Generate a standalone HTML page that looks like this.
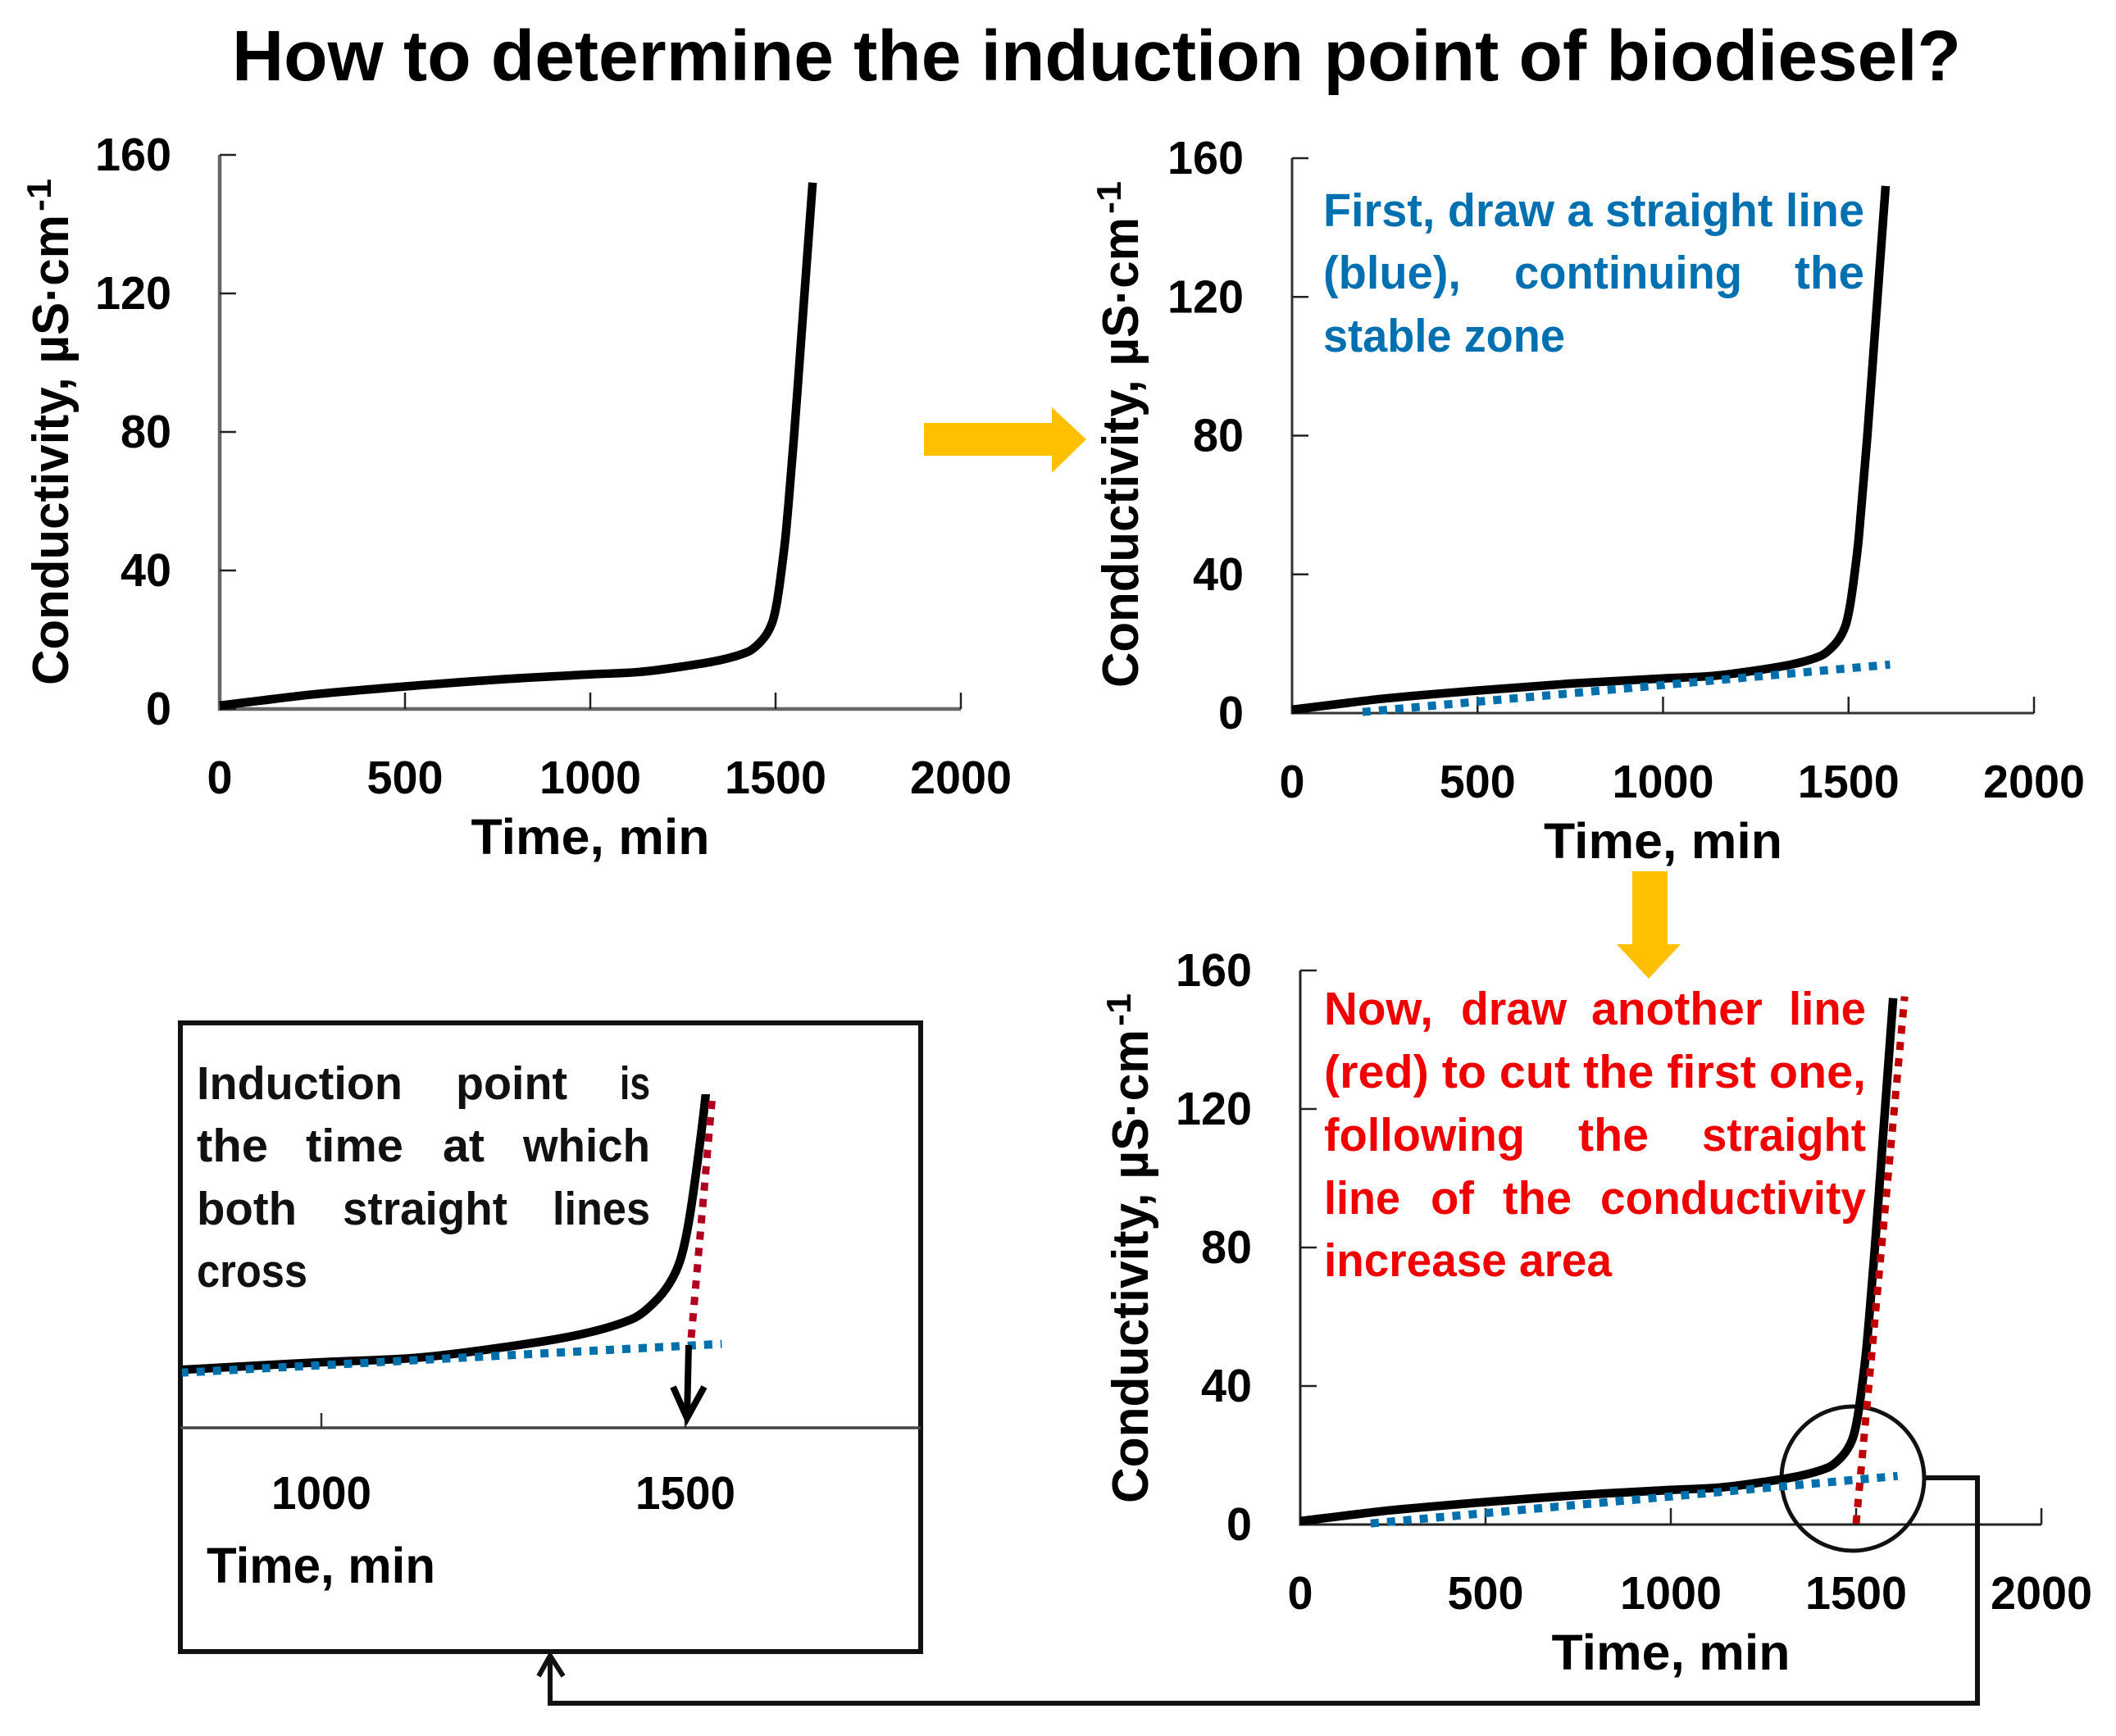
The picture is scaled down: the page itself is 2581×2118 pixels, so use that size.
<!DOCTYPE html>
<html lang="en">
<head>
<meta charset="utf-8">
<title>How to determine the induction point of biodiesel?</title>
<style>
html,body{margin:0;padding:0;background:#fff;}
svg{display:block;}
text{font-family:"Liberation Sans",sans-serif;font-weight:700;}
</style>
</head>
<body>
<svg id="figure" xmlns="http://www.w3.org/2000/svg" width="2581" height="2118" viewBox="0 0 2581 2118">
  <rect width="2581" height="2118" fill="#fff"/>
  <text x="283" y="98" font-size="87" fill="#000" textLength="2109" lengthAdjust="spacingAndGlyphs">How to determine the induction point of biodiesel?</text>

  <polygon points="1127,516 1283,516 1283,497 1325,536 1283,577 1283,556 1127,556" fill="#ffc000"/>
  <polygon points="1991,1063 2034,1063 2034,1152 2050,1152 2011,1194 1972,1152 1991,1152" fill="#ffc000"/>

  <g id="panels"></g>

  <g fill="#0070b0" font-size="57">
    <text x="1614" y="276" textLength="660" lengthAdjust="spacingAndGlyphs">First, draw a straight line</text>
    <text x="1614" y="352" textLength="168" lengthAdjust="spacingAndGlyphs">(blue),</text>
    <text x="1847" y="352" textLength="278" lengthAdjust="spacingAndGlyphs">continuing</text>
    <text x="2189" y="352" textLength="85" lengthAdjust="spacingAndGlyphs">the</text>
    <text x="1614" y="429" textLength="295" lengthAdjust="spacingAndGlyphs">stable zone</text>
  </g>

  <g fill="#f00000" font-size="57">
    <text x="1615" y="1250" textLength="133" lengthAdjust="spacingAndGlyphs">Now,</text>
    <text x="1782" y="1250" textLength="129" lengthAdjust="spacingAndGlyphs">draw</text>
    <text x="1941" y="1250" textLength="209" lengthAdjust="spacingAndGlyphs">another</text>
    <text x="2182" y="1250" textLength="94" lengthAdjust="spacingAndGlyphs">line</text>
    <text x="1615" y="1327" textLength="661" lengthAdjust="spacingAndGlyphs">(red) to cut the first one,</text>
    <text x="1615" y="1404" textLength="245" lengthAdjust="spacingAndGlyphs">following</text>
    <text x="1925" y="1404" textLength="86" lengthAdjust="spacingAndGlyphs">the</text>
    <text x="2076" y="1404" textLength="200" lengthAdjust="spacingAndGlyphs">straight</text>
    <text x="1615" y="1481" textLength="93" lengthAdjust="spacingAndGlyphs">line</text>
    <text x="1745" y="1481" textLength="53" lengthAdjust="spacingAndGlyphs">of</text>
    <text x="1833" y="1481" textLength="84" lengthAdjust="spacingAndGlyphs">the</text>
    <text x="1952" y="1481" textLength="324" lengthAdjust="spacingAndGlyphs">conductivity</text>
    <text x="1615" y="1557" textLength="351" lengthAdjust="spacingAndGlyphs">increase area</text>
  </g>

  <rect x="220" y="1248" width="903" height="767" fill="none" stroke="#111" stroke-width="6"/>
  <g id="inset"></g>

  <g fill="#111" font-size="57">
    <text x="240" y="1341" textLength="251" lengthAdjust="spacingAndGlyphs">Induction</text>
    <text x="556" y="1341" textLength="136" lengthAdjust="spacingAndGlyphs">point</text>
    <text x="756" y="1341" textLength="37" lengthAdjust="spacingAndGlyphs">is</text>
    <text x="240" y="1417" textLength="87" lengthAdjust="spacingAndGlyphs">the</text>
    <text x="373" y="1417" textLength="119" lengthAdjust="spacingAndGlyphs">time</text>
    <text x="540" y="1417" textLength="51" lengthAdjust="spacingAndGlyphs">at</text>
    <text x="638" y="1417" textLength="155" lengthAdjust="spacingAndGlyphs">which</text>
    <text x="240" y="1494" textLength="122" lengthAdjust="spacingAndGlyphs">both</text>
    <text x="418" y="1494" textLength="201" lengthAdjust="spacingAndGlyphs">straight</text>
    <text x="674" y="1494" textLength="119" lengthAdjust="spacingAndGlyphs">lines</text>
    <text x="240" y="1570" textLength="135" lengthAdjust="spacingAndGlyphs">cross</text>
  </g>

  <g fill="none" stroke="#000" stroke-width="8">
    <path d="M840 1641 L838 1730"/>
    <path d="M821 1692 L838 1730 L859 1692" stroke-linejoin="miter"/>
  </g>

  <g fill="none" stroke="#111" stroke-width="6">
    <path d="M2348 1803 H2412 V2078 H671 V2020"/>
    <path d="M657 2045 L671 2020 L687 2045"/>
  </g>
</svg>

<script>
// Chart data
const xTicks = [0, 500, 1000, 1500, 2000];
const yTicks = [0, 40, 80, 120, 160];
const timeMin = [0, 100, 250, 500, 750, 1000, 1133, 1251, 1354, 1427, 1456, 1478, 1493, 1504, 1516, 1528, 1550, 1570, 1585, 1600];
const conductivity = [1, 2.3, 4.2, 6.5, 8.5, 10, 10.7, 12.3, 14.2, 16.6, 19, 22, 25.6, 31, 40, 51, 79, 108, 130, 152];
const blueLineTime = [190, 1612];
const blueLineValue = [0.3, 14];
const redLineTime = [1500, 1631];
const redLineValue = [0.3, 152.5];
const insetTicks = [1000, 1500];
const insetBlueTime = [806, 1550];
const insetBlueValue = [8.4, 12.8];
const insetRedTime = [1508, 1537];
const insetRedValue = [13.75, 50.6];

const NS = 'http://www.w3.org/2000/svg';

function make(parent, tag, attrs, name) {
  const el = document.createElementNS(NS, tag);
  for (const k in attrs) el.setAttribute(k, attrs[k]);
  
  
  parent.appendChild(el);
  return el;
}

function label(parent, str, x, y, size, len, anchor, name, extra) {
  const attrs = Object.assign({x: x, y: y, 'font-size': size, fill: '#000', 'text-anchor': anchor,
    textLength: len, lengthAdjust: 'spacingAndGlyphs'}, extra || {});
  const el = make(parent, 'text', attrs, name);
  el.textContent = str;
  return el;
}

// Smooth path: tangent direction from neighbours, handle length from segment length
function smoothPath(pts) {
  const tan = pts.map(function (p, i) {
    const a = pts[Math.max(i - 1, 0)], b = pts[Math.min(i + 1, pts.length - 1)];
    const dx = b[0] - a[0], dy = b[1] - a[1], n = Math.hypot(dx, dy) || 1;
    return [dx / n, dy / n];
  });
  let d = 'M' + pts[0][0].toFixed(1) + ' ' + pts[0][1].toFixed(1);
  for (let i = 0; i < pts.length - 1; i++) {
    const p1 = pts[i], p2 = pts[i + 1];
    const h = Math.hypot(p2[0] - p1[0], p2[1] - p1[1]) / 3;
    d += ' C' + (p1[0] + tan[i][0] * h).toFixed(1) + ' ' + (p1[1] + tan[i][1] * h).toFixed(1) + ' ' +
      (p2[0] - tan[i + 1][0] * h).toFixed(1) + ' ' + (p2[1] - tan[i + 1][1] * h).toFixed(1) + ' ' +
      p2[0].toFixed(1) + ' ' + p2[1].toFixed(1);
  }
  return d;
}

function series(xs, ys, sx, sy) {
  return xs.map(function (t, i) { return [sx(t), sy(ys[i])]; });
}

function drawPanel(p, id) {
  const g = make(document.getElementById('panels'), 'g', {}, 'chart-' + id);
  const sx = function (t) { return p.x0 + t / 2000 * (p.x1 - p.x0); };
  const sy = function (v) { return p.y0 - v / 160 * (p.y0 - p.y1); };

  make(g, 'path', {d: 'M' + sx(0) + ' ' + sy(160) + ' V' + sy(0) + ' H' + sx(2000), fill: 'none', stroke: p.axisColor, 'stroke-width': p.axisWidth}, 'axes-' + id);

  yTicks.forEach(function (v) {
    make(g, 'line', {x1: sx(0), x2: sx(0) + 20, y1: sy(v), y2: sy(v), stroke: '#222', 'stroke-width': 2.5}, 'y-tick-' + v);
    const w = String(v).length * 31;
    label(g, String(v), p.x0 - 59, sy(v) + 19, 57, w, 'end', 'y-tick-label-' + v);
  });
  xTicks.forEach(function (t) {
    if (t > 0) make(g, 'line', {x1: sx(t), x2: sx(t), y1: sy(0), y2: sy(0) - 20, stroke: '#222', 'stroke-width': 2.5}, 'x-tick-' + t);
    const w = String(t).length * 31;
    label(g, String(t), sx(t), sy(0) + p.tickDy, 57, w, 'middle', 'x-tick-label-' + t);
  });

  label(g, 'Time, min', sx(1000), sy(0) + p.titleDy, 61, 291, 'middle', 'x-axis-title');

  label(g, 'Conductivity, \u00b5S\u00b7cm', p.ytX, p.ytY, 62, p.ytLen, 'start', 'y-axis-title',
    {transform: 'rotate(-90 ' + p.ytX + ' ' + p.ytY + ')'});
  const supY = p.ytY - p.ytLen - 4;
  label(g, '-1', p.ytX - 21, supY, 42, 40, 'start', 'y-axis-unit-exponent',
    {transform: 'rotate(-90 ' + (p.ytX - 21) + ' ' + supY + ')'});

  if (p.circle) {
    make(g, 'ellipse', {cx: 2260, cy: 1804, rx: 87, ry: 88, fill: 'none', stroke: '#111', 'stroke-width': 5}, 'zoom-circle');
  }
  make(g, 'path', {d: smoothPath(series(timeMin, conductivity, sx, sy)), fill: 'none', stroke: '#000', 'stroke-width': 10.5, 'stroke-linejoin': 'round'}, 'conductivity-curve');
  if (p.red) {
    make(g, 'path', {d: smoothPath(series(redLineTime, redLineValue, sx, sy)), fill: 'none', stroke: '#c00000', 'stroke-width': 9, 'stroke-dasharray': '10 10'}, 'red-tangent-line');
  }
  if (p.blue) {
    make(g, 'path', {d: smoothPath(series(blueLineTime, blueLineValue, sx, sy)), fill: 'none', stroke: '#0070ad', 'stroke-width': 10, 'stroke-dasharray': '10 10'}, 'blue-baseline');
  }
}

drawPanel({x0: 268, x1: 1172, y0: 865, y1: 189, tickDy: 103, titleDy: 177, ytX: 83, ytY: 836, ytLen: 574, axisColor: '#666', axisWidth: 4.5}, 'raw');
drawPanel({x0: 1576, x1: 2481, y0: 870, y1: 193, tickDy: 103, titleDy: 177, ytX: 1388, ytY: 839, ytLen: 574, axisColor: '#333', axisWidth: 3, blue: true}, 'blue');
drawPanel({x0: 1586, x1: 2490, y0: 1860, y1: 1184, tickDy: 103, titleDy: 177, ytX: 1400, ytY: 1834, ytLen: 578, axisColor: '#222', axisWidth: 3, blue: true, red: true, circle: true}, 'red');

(function drawInset() {
  const g = document.getElementById('inset');
  const sx = function (t) { return 392 + (t - 1000) * 0.888; };
  const sy = function (v) { return 1742 - v * 8; };

  const defs = make(g, 'defs', {}, 'inset-defs');
  const clip = make(defs, 'clipPath', {id: 'inset-clip'}, 'inset-clip');
  make(clip, 'rect', {x: 222, y: 1335, width: 899, height: 407}, 'inset-clip-area');

  make(g, 'line', {x1: 220, x2: 1123, y1: 1742, y2: 1742, stroke: '#444', 'stroke-width': 3.5}, 'inset-x-axis');

  insetTicks.forEach(function (t) {
    make(g, 'line', {x1: sx(t), x2: sx(t), y1: 1742, y2: 1724, stroke: '#333', 'stroke-width': 2.5}, 'inset-x-tick-' + t);
    label(g, String(t), sx(t), 1841, 57, 122, 'middle', 'inset-x-tick-label-' + t);
  });
  label(g, 'Time, min', 252, 1931, 61, 279, 'start', 'inset-x-axis-title');

  const clipped = make(g, 'g', {'clip-path': 'url(#inset-clip)'}, 'inset-series');
  make(clipped, 'path', {d: smoothPath(series(timeMin, conductivity, sx, sy)), fill: 'none', stroke: '#000', 'stroke-width': 10.5}, 'inset-conductivity-curve');
  make(clipped, 'path', {d: smoothPath(series(insetRedTime, insetRedValue, sx, sy)), fill: 'none', stroke: '#b00020', 'stroke-width': 9, 'stroke-dasharray': '10 10'}, 'inset-red-tangent-line');
  make(clipped, 'path', {d: smoothPath(series(insetBlueTime, insetBlueValue, sx, sy)), fill: 'none', stroke: '#0070ad', 'stroke-width': 10, 'stroke-dasharray': '10 10'}, 'inset-blue-baseline');
})();
</script>
</body>
</html>
